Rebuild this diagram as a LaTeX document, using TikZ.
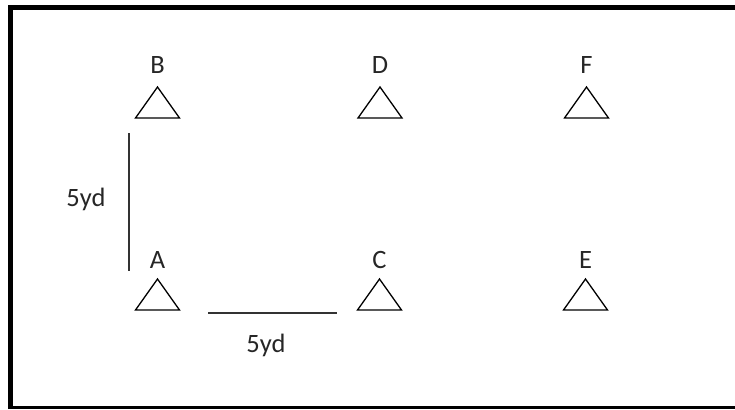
\documentclass[tikz,border=0pt]{standalone}
\usepackage{fontspec}
\setmainfont{Carlito}
\begin{document}
\begin{tikzpicture}[x=1pt,y=-1pt,
  lbl/.style={anchor=base, inner sep=0pt, font=\fontsize{26.5}{30}\selectfont, text=black!85},
  tri/.style={line width=1.3pt, line join=miter},
  meas/.style={line width=2pt, draw=black!80},
  frame/.style={draw=black}]
\useasboundingbox (0,0) rectangle (735,409);
\draw[frame, line width=4.5pt] (10.5,409) -- (10.5,7.5) -- (735,7.5);
\draw[frame, line width=3pt] (10.5,407.5) -- (735,407.5);
\foreach \n/\x/\y/\b in {B/157.5/87/74, D/380/87/74, F/586.5/87/74, A/157.5/279/268, C/379.5/279/268, E/585.5/279/268} {
  \coordinate (t\n) at (\x,\y);
  \draw[tri] (t\n) -- ++(22,31) -- ++(-44,0) -- cycle;
  \node[lbl] (l\n) at (\x,\b) {\n};
}
\coordinate (v1) at (129,133);
\coordinate (v2) at (129,271);
\coordinate (h1) at (208,313);
\coordinate (h2) at (337,313);
\draw[meas] (v1) -- (v2);
\draw[meas] (h1) -- (h2);
\node[lbl] (dv) at (86,206) {5yd};
\node[lbl] (dh) at (266,352) {5yd};
\end{tikzpicture}
\end{document}
